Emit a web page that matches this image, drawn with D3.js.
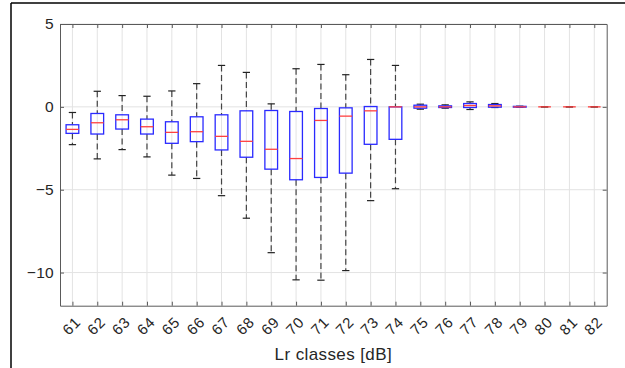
<!DOCTYPE html>
<html>
<head>
<meta charset="utf-8">
<script src="https://cdn.jsdelivr.net/npm/d3@7"></script>
<style>
  body { margin: 0; background: #fff; }
  svg { display: block; font-family: "Liberation Sans", Arial, sans-serif; }
</style>
</head>
<body>
<svg id="chart" width="625" height="368"></svg>
<script>
// Lr classes (x categories)
const classes = [61, 62, 63, 64, 65, 66, 67, 68, 69, 70, 71, 72, 73, 74, 75, 76, 77, 78, 79, 80, 81, 82];
// box plot statistics
const whiskerHigh = [-0.34, 0.94, 0.68, 0.64, 0.96, 1.4, 2.5, 2.08, 0.18, 2.3, 2.56, 1.94, 2.86, 2.5, 0.16, 0.12, 0.3, 0.2, 0.04, 0, 0, 0];
const boxTop      = [-1.08, -0.4, -0.48, -0.74, -0.9, -0.6, -0.48, -0.24, -0.22, -0.28, -0.1, -0.06, 0.02, 0, 0.1, 0.06, 0.2, 0.14, 0.03, 0, 0, 0];
const medians     = [-1.36, -0.96, -0.78, -1.2, -1.54, -1.5, -1.78, -2.08, -2.56, -3.12, -0.82, -0.56, -0.24, 0, 0, 0, 0.08, 0.06, 0, 0, 0, 0];
const boxBottom   = [-1.6, -1.64, -1.34, -1.64, -2.2, -2.1, -2.6, -3.04, -3.76, -4.4, -4.26, -4.0, -2.26, -1.96, -0.08, -0.04, -0.04, -0.02, -0.02, 0, 0, 0];
const whiskerLow  = [-2.28, -3.14, -2.58, -3.02, -4.12, -4.32, -5.36, -6.72, -8.8, -10.44, -10.46, -9.88, -5.66, -4.94, -0.14, -0.08, -0.16, -0.04, -0.03, 0, 0, 0];
const yTicks = [-10, -5, 0, 5];

const data = classes.map((c, i) => ({
  c, hi: whiskerHigh[i], q3: boxTop[i], med: medians[i], q1: boxBottom[i], lo: whiskerLow[i]
}));

const svg = d3.select("#chart");
const margin = { top: 24, right: 18.3, bottom: 62.3, left: 60 };
const width = 625, height = 368;
const axisColor = "#5a5a5a";
const textColor = "#262626";

const x = d3.scaleLinear()
  .domain([classes[0] - 0.5, classes[classes.length - 1] + 0.5])
  .range([margin.left, width - margin.right]);
const y = d3.scaleLinear()
  .domain([-12, 5])
  .range([height - margin.bottom, margin.top]);

const boxW = 12.7, capW = 7.3;

// figure border (top and left edges)
svg.append("line").attr("x1", 11).attr("x2", 625).attr("y1", 3).attr("y2", 3)
  .attr("stroke", "#000").attr("stroke-width", 1.5);
svg.append("line").attr("x1", 11).attr("x2", 11).attr("y1", 3).attr("y2", 368)
  .attr("stroke", "#000").attr("stroke-width", 1.5);

// grid
const grid = svg.append("g").attr("class", "grid");
grid.selectAll(".vgrid").data(classes).join("line")
  .attr("x1", d => x(d)).attr("x2", d => x(d))
  .attr("y1", y(5)).attr("y2", y(-12))
  .attr("stroke", "#e3e3e3").attr("stroke-width", 1);
grid.selectAll(".hgrid").data(yTicks).join("line")
  .attr("x1", x.range()[0]).attr("x2", x.range()[1])
  .attr("y1", d => y(d)).attr("y2", d => y(d))
  .attr("stroke", "#e3e3e3").attr("stroke-width", 1);

// axes (ticks pointing inward, box on)
const xAxis = (g) =>
  g.attr("transform", `translate(0,${y(-12)})`)
    .call(d3.axisBottom(x).tickValues(classes).tickSize(-4).tickSizeOuter(0).tickFormat(""))
    .call(g => g.selectAll("line, path").attr("stroke", axisColor));
const xAxisTop = (g) =>
  g.attr("transform", `translate(0,${y(5)})`)
    .call(d3.axisTop(x).tickValues(classes).tickSize(-4).tickSizeOuter(0).tickFormat(""))
    .call(g => g.selectAll("line, path").attr("stroke", axisColor));
const yAxis = (g) =>
  g.attr("transform", `translate(${x.range()[0]},0)`)
    .call(d3.axisLeft(y).tickValues(yTicks).tickSize(-4).tickSizeOuter(0).tickPadding(6))
    .call(g => g.selectAll("line, path").attr("stroke", axisColor))
    .call(g => g.selectAll("text").attr("fill", textColor).style("font-size", "15.5px")
      .style("letter-spacing", "0.3px")
      .style("font-family", "'Liberation Sans', Arial, sans-serif"));
const yAxisRight = (g) =>
  g.attr("transform", `translate(${x.range()[1]},0)`)
    .call(d3.axisRight(y).tickValues(yTicks).tickSize(-4).tickSizeOuter(0).tickFormat(""))
    .call(g => g.selectAll("line, path").attr("stroke", axisColor));

svg.append("g").call(xAxis);
svg.append("g").call(xAxisTop);
svg.append("g").call(yAxis);
svg.append("g").call(yAxisRight);

// rotated x tick labels
svg.append("g").selectAll("text").data(classes).join("text")
  .attr("transform", d => `translate(${x(d) - 1},${y(-12) + 20}) rotate(-45)`)
  .attr("text-anchor", "middle")
  .attr("dy", "0.35em")
  .attr("fill", textColor)
  .style("font-size", "15px")
  .style("letter-spacing", "0.8px")
  .text(d => d);

// x label
svg.append("text")
  .attr("x", (x.range()[0] + x.range()[1]) / 2)
  .attr("y", 360)
  .attr("text-anchor", "middle")
  .attr("fill", textColor)
  .style("font-size", "17px")
  .style("letter-spacing", "0.4px")
  .text("Lr classes [dB]");

// boxes
const boxes = svg.append("g").attr("class", "plot-area")
  .selectAll("g").data(data).join("g");

boxes.append("line") // upper whisker
  .attr("x1", d => x(d.c)).attr("x2", d => x(d.c))
  .attr("y1", d => y(d.hi)).attr("y2", d => y(d.q3))
  .attr("stroke", "#444").attr("stroke-width", 1.2).attr("stroke-dasharray", "6,3.5");
boxes.append("line") // lower whisker
  .attr("x1", d => x(d.c)).attr("x2", d => x(d.c))
  .attr("y1", d => y(d.q1)).attr("y2", d => y(d.lo))
  .attr("stroke", "#444").attr("stroke-width", 1.2).attr("stroke-dasharray", "6,3.5");
boxes.append("line") // upper cap
  .attr("x1", d => x(d.c) - capW / 2).attr("x2", d => x(d.c) + capW / 2)
  .attr("y1", d => y(d.hi)).attr("y2", d => y(d.hi))
  .attr("stroke", "#222").attr("stroke-width", 1.2);
boxes.append("line") // lower cap
  .attr("x1", d => x(d.c) - capW / 2).attr("x2", d => x(d.c) + capW / 2)
  .attr("y1", d => y(d.lo)).attr("y2", d => y(d.lo))
  .attr("stroke", "#222").attr("stroke-width", 1.2);
boxes.append("rect")
  .attr("x", d => x(d.c) - boxW / 2)
  .attr("width", boxW)
  .attr("y", d => y(d.q3))
  .attr("height", d => y(d.q1) - y(d.q3))
  .attr("fill", "none")
  .attr("stroke", "#2a2aff").attr("stroke-width", 1.3);
boxes.append("line") // median
  .attr("x1", d => x(d.c) - boxW / 2).attr("x2", d => x(d.c) + boxW / 2)
  .attr("y1", d => y(d.med)).attr("y2", d => y(d.med))
  .attr("stroke", "#ff4040").attr("stroke-width", 1.3);
</script>
</body>
</html>
